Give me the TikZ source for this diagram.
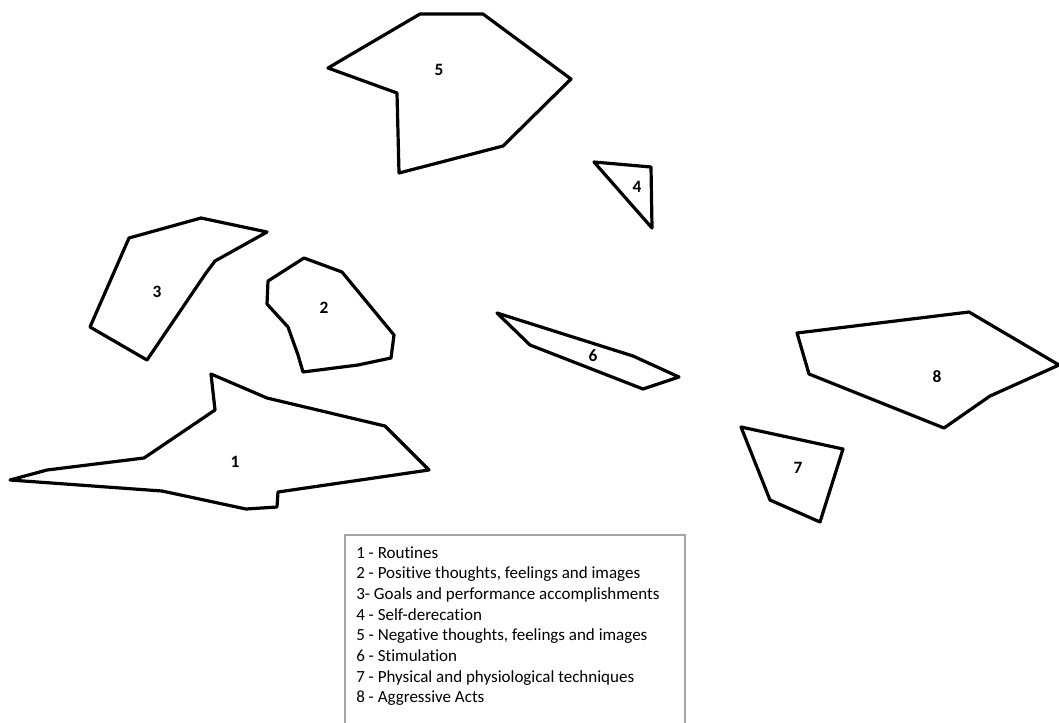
\documentclass[tikz,border=0pt]{standalone}
\usepackage{fontspec}
\setmainfont{Carlito}[Ligatures={NoCommon}]
\usepackage{tikz}
\usetikzlibrary{positioning}

\begin{document}
\begin{tikzpicture}[
    x=0.75pt, y=-0.75pt,
    region/.style={
        draw,
        line width=2.4pt,
        line join=round,
        line cap=round
    },
    tag/.style={
        font=\bfseries\fontsize{13}{15}\selectfont,
        inner sep=0pt
    },
    legend/.style={
        anchor=base west,
        inner sep=0pt,
        font=\fontsize{12.75}{15}\selectfont
    },
    frame/.style={draw=black!35, line width=0.8pt}
]
\useasboundingbox[fill=white] (0,0) rectangle (1059,722);

% regions
\draw[region] (10,480) -- (47,470) -- (144,458) -- (215,410) -- (211,374) -- (267,398)
    -- (385,426) -- (429,470) -- (278,492) -- (277,507) -- (246,509) -- (162,491) -- cycle;
\draw[region] (304,258) -- (342,272) -- (394,335) -- (391,358) -- (358,365) -- (303,372)
    -- (298,355) -- (288,327) -- (267,304) -- (268,281) -- cycle;
\draw[region] (129,238) -- (201,218) -- (267,232) -- (215,261) -- (206,273) -- (147,360)
    -- (90,327) -- cycle;
\draw[region] (594,162) -- (651,167) -- (652,228) -- cycle;
\draw[region] (420,14) -- (483,14) -- (571,79) -- (503,146) -- (399,173) -- (397,93)
    -- (328,68) -- cycle;
\draw[region] (497,313) -- (633,356) -- (679,377) -- (643,389) -- (530,345) -- cycle;
\draw[region] (741,427) -- (843,449) -- (820,522) -- (770,500) -- cycle;
\draw[region] (797,333) -- (969,312) -- (1059,365) -- (990,396) -- (944,428) -- (809,374) -- cycle;

% region numbers
\node[tag] (t1) at (235,462) {1};
\node[tag] (t2) at (324,308) {2};
\node[tag] (t3) at (157,292) {3};
\node[tag] (t4) at (637,187) {4};
\node[tag] (t5) at (439,70) {5};
\node[tag] (t6) at (593,356) {6};
\node[tag] (t7) at (798,468) {7};
\node[tag] (t8) at (937,377) {8};

% legend
\draw[frame] (345,723) -- (345,535) -- (685,535) -- (685,723);
\foreach \k/\txt [count=\i from 0] in {1/1 - Routines,
    2/{2 - Positive thoughts, feelings and images},
    3/3- Goals and performance accomplishments,
    4/4 - Self-derecation,
    5/{5 - Negative thoughts, feelings and images},
    6/6 - Stimulation,
    7/7 - Physical and physiological techniques,
    8/8 - Aggressive Acts}
    \node[legend] (leg\k) at (356,558+20.7*\i) {\txt};
\end{tikzpicture}
\end{document}
